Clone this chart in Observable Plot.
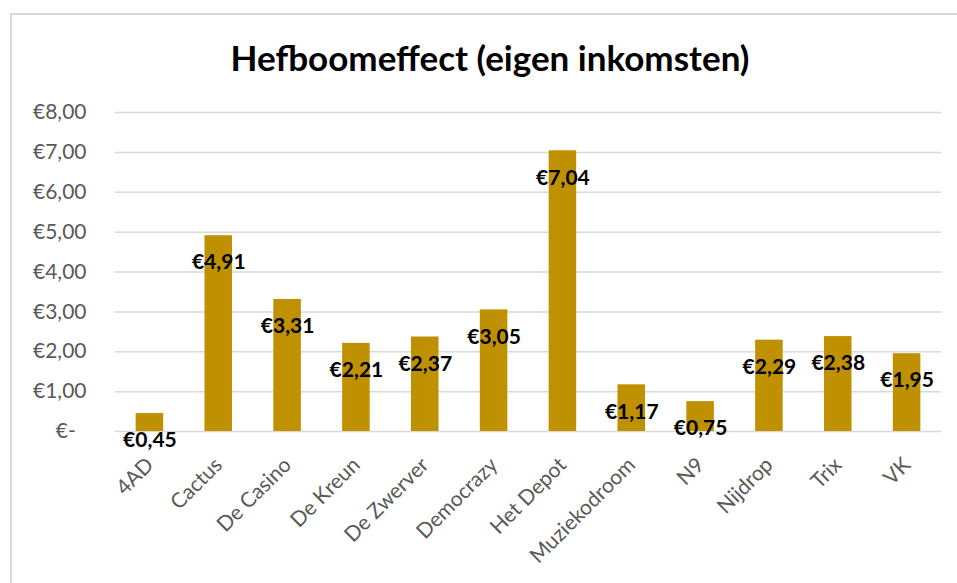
<!DOCTYPE html>
<html>
<head>
<meta charset="utf-8">
<script src="https://cdn.jsdelivr.net/npm/d3@7"></script>
<script src="https://cdn.jsdelivr.net/npm/@observablehq/plot@0.6"></script>
<style>
  html, body { margin: 0; padding: 0; background: #fff; overflow: hidden; }
  body { width: 957px; height: 583px; position: relative; font-family: Lato, "Open Sans", sans-serif; }
  #frame { position: absolute; left: 10px; top: 13px; width: 1000px; height: 700px; border: 2px solid #d9d9d9; box-sizing: border-box; }
  #title { position: absolute; left: 0; top: 37px; width: 980px; text-align: center; font-weight: bold; font-size: 35px; line-height: 40px; color: #000; }
  #chart { position: absolute; left: 0; top: 90px; }
</style>
</head>
<body>
<div id="frame"></div>
<div id="title">Hefboomeffect (eigen inkomsten)</div>
<div id="chart"></div>
<script>
const categories = ["4AD", "Cactus", "De Casino", "De Kreun", "De Zwerver", "Democrazy", "Het Depot", "Muziekodroom", "N9", "Nijdrop", "Trix", "VK"];
const values = [0.45, 4.91, 3.31, 2.21, 2.37, 3.05, 7.04, 1.17, 0.75, 2.29, 2.38, 1.95];
const yTicks = [0, 1, 2, 3, 4, 5, 6, 7, 8];

const data = categories.map((c, i) => ({category: c, value: values[i]}));
const euro = v => v === 0 ? "€-\u00a0\u00a0" : "€" + v.toFixed(2).replace(".", ",");

const plot = Plot.plot({
  width: 957,
  height: 493,
  marginTop: 22,
  marginBottom: 152,
  marginLeft: 115,
  marginRight: 16,
  style: {fontFamily: "Lato, 'Open Sans', sans-serif", background: "transparent"},
  x: {domain: categories, paddingInner: 0.6, paddingOuter: 0.3, round: false, axis: null},
  y: {domain: [0, 8], axis: null},
  marks: [
    Plot.ruleY(yTicks, {stroke: "#d9d9d9", strokeWidth: 1.5}),
    Plot.barY(data, {x: "category", y: "value", fill: "#BF9000"}),
    Plot.axisY(yTicks, {tickSize: 0, tickPadding: 29, tickFormat: euro, fontSize: 21, fill: "#595959", label: null}),
    Plot.text(data, {x: "category", y: "value", text: d => euro(d.value), dy: 27, fontSize: 21, fontWeight: "bold", fill: "#000", lineAnchor: "middle"}),
    Plot.text(categories, {x: d => d, y: () => 0, text: d => d, rotate: -45, textAnchor: "end", lineAnchor: "middle", dx: 0, dy: 30, fontSize: 21, fill: "#595959"})
  ]
});
document.getElementById("chart").appendChild(plot);
</script>
</body>
</html>
